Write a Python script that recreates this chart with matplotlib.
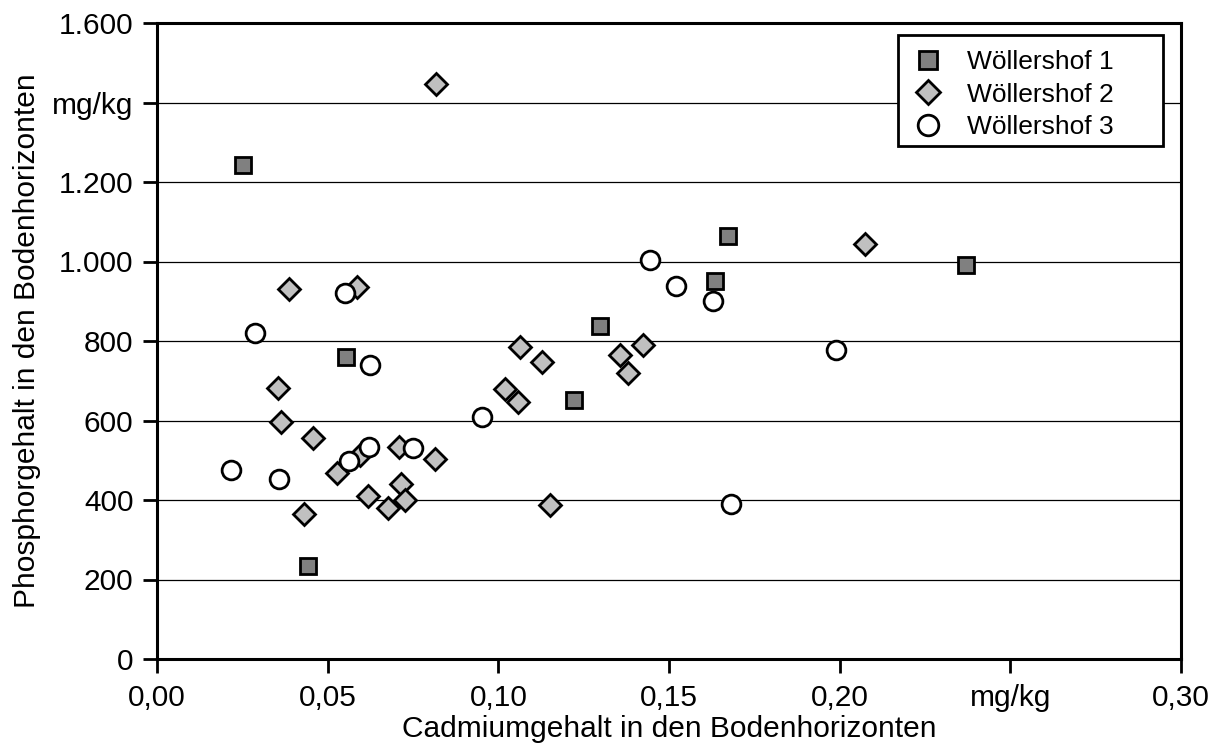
import matplotlib
matplotlib.use("Agg")
import matplotlib.pyplot as plt
from matplotlib.patches import Rectangle

plt.rcParams['font.family'] = ['Liberation Sans', 'DejaVu Sans']

# Wöllershof 1 (squares)
w1_cd = [0.0253, 0.0554, 0.0443, 0.1672, 0.1635, 0.1298, 0.1222, 0.2369]
w1_p = [1243, 760, 235, 1064, 952, 838, 652, 991]

# Wöllershof 2 (diamonds)
w2_cd = [0.0817, 0.0387, 0.0585, 0.0355, 0.0363, 0.0458, 0.0710, 0.0813,
         0.0595, 0.0526, 0.0715, 0.0617, 0.0727, 0.0676, 0.0431, 0.1064,
         0.1020, 0.1057, 0.2074, 0.1425, 0.1357, 0.1381, 0.1127, 0.1150]
w2_p = [1447, 932, 937, 683, 597, 555, 534, 503,
        513, 467, 439, 411, 400, 379, 365, 786,
        678, 647, 1044, 790, 765, 720, 746, 387]

# Wöllershof 3 (circles)
w3_cd = [0.0551, 0.0287, 0.0624, 0.0751, 0.0622, 0.0563, 0.0217, 0.0358,
         0.0951, 0.1444, 0.1521, 0.1628, 0.1989, 0.1681]
w3_p = [921, 821, 739, 532, 534, 498, 475, 452,
        610, 1004, 938, 901, 777, 389]

series_names = ["Wöllershof 1", "Wöllershof 2", "Wöllershof 3"]

x_ticks = [0.00, 0.05, 0.10, 0.15, 0.20, 0.25, 0.30]
x_ticklabels = ["0,00", "0,05", "0,10", "0,15", "0,20", "mg/kg", "0,30"]
y_ticks = [0, 200, 400, 600, 800, 1000, 1200, 1400, 1600]
y_ticklabels = ["0", "200", "400", "600", "800", "1.000", "1.200", "mg/kg", "1.600"]

W, H = 1222, 753
fig = plt.figure(figsize=(W / 100, H / 100), dpi=100)
ax = fig.add_axes([157/W, 94/H, 1024/W, 636/H])

ax.set_xlim(0, 0.30)
ax.set_ylim(0, 1600)

for yv in y_ticks[1:-1]:
    ax.axhline(yv, color='black', lw=0.9, zorder=1)

mew = 2.0
ax.plot(w1_cd, w1_p, ls='none', marker='s', ms=11.5, mfc='#808080', mec='black',
        mew=mew, label=series_names[0], zorder=3)
ax.plot(w2_cd, w2_p, ls='none', marker='D', ms=11.5, mfc='#C0C0C0', mec='black',
        mew=mew, label=series_names[1], zorder=4)
ax.plot(w3_cd, w3_p, ls='none', marker='o', ms=13.5, mfc='white', mec='black',
        mew=mew, label=series_names[2], zorder=5)

ax.set_xticks(x_ticks)
ax.set_xticklabels(x_ticklabels)
ax.set_yticks(y_ticks)
ax.set_yticklabels(y_ticklabels)
ax.tick_params(axis='both', direction='out', length=10, width=2, labelsize=21.5,
               color='black')
ax.tick_params(axis='x', pad=8)
ax.tick_params(axis='y', pad=7)

for sp in ax.spines.values():
    sp.set_linewidth(2.2)
    sp.set_color('black')

ax.set_xlabel("Cadmiumgehalt in den Bodenhorizonten", fontsize=21.5, labelpad=2)
ax.set_ylabel("Phosphorgehalt in den Bodenhorizonten", fontsize=21.5, labelpad=8)

# legend frame drawn separately for exact padding
frame = Rectangle((898/W, (H-146)/H), (1163-898)/W, (146-35)/H,
                  transform=fig.transFigure, facecolor='white', edgecolor='black',
                  linewidth=2, zorder=9)
fig.add_artist(frame)

leg = fig.legend(*ax.get_legend_handles_labels(), loc='upper left',
                 bbox_to_anchor=(915/W, (H-50)/H),
                 bbox_transform=fig.transFigure, fontsize=19, frameon=False,
                 borderpad=0, labelspacing=0.33, handlelength=1.0,
                 handletextpad=0.97, borderaxespad=0, markerscale=1.1)
leg.set_zorder(10)

fig.savefig("out.png", dpi=100)
